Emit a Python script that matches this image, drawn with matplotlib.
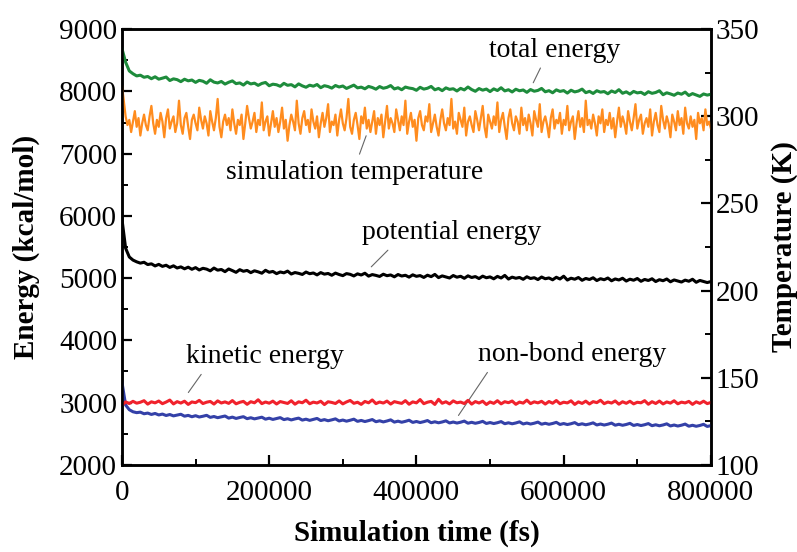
import numpy as np
import matplotlib
matplotlib.use('Agg')
import matplotlib.pyplot as plt
from matplotlib.ticker import MultipleLocator

total_energy = [
    8690, 8470, 8330, 8285, 8250, 8262, 8228, 8241, 8205, 8236,
    8198, 8214, 8232, 8176, 8203, 8190, 8158, 8197, 8171, 8184,
    8146, 8179, 8165, 8132, 8188, 8150, 8137, 8161, 8119, 8148,
    8170, 8126, 8138, 8103, 8152, 8121, 8134, 8098, 8129, 8145,
    8092, 8117, 8108, 8083, 8131, 8099, 8110, 8074, 8122, 8090,
    8068, 8101, 8085, 8112, 8061, 8093, 8079, 8054, 8096, 8072,
    8088, 8049, 8075, 8102, 8058, 8070, 8043, 8081, 8064, 8037,
    8079, 8052, 8066, 8095, 8041, 8060, 8028, 8071, 8055, 8046,
    8019, 8067, 8038, 8052, 8081, 8027, 8049, 8013, 8058, 8034,
    8044, 8008, 8050, 8025, 8072, 8031, 8003, 8047, 8021, 8039,
    7998, 8042, 8015, 8060, 8009, 8028, 7992, 8036, 8011, 8024,
    7986, 8031, 8004, 8017, 8049, 7995, 8013, 7979, 8026, 8001,
    8014, 7974, 8020, 7993, 8007, 8038, 7981, 8002, 7968, 8012,
    7989, 7999, 7963, 8008, 7984, 8029, 7971, 7994, 7958, 8001,
    7977, 7987, 7952, 7996, 7970, 7984, 8012, 7948, 7979, 7961,
    7939, 7975, 7956, 7990, 7935, 7966, 7944, 7921, 7960, 7942, 7955,
]

temperature = [
    318, 309, 300, 295, 298, 291, 297, 303, 294, 299, 289, 296, 301, 295, 292, 300, 306, 296, 290, 298,
    294, 302, 297, 288, 299, 304, 293, 297, 300, 291, 296, 309, 295, 290, 299, 302, 294, 287, 298, 301,
    296, 292, 305, 298, 293, 300, 296, 289, 303, 297, 292, 299, 310, 294, 288, 297, 301, 295, 299, 292,
    304, 296, 290, 298, 295, 301, 287, 296, 306, 299, 293, 297, 302, 291, 298, 295, 308, 292, 297, 300,
    289, 296, 303, 294, 299, 291, 297, 305, 293, 298, 286, 295, 301, 297, 292, 309, 296, 290, 299, 303,
    295, 298, 291, 304, 297, 293, 300, 288, 296, 302, 294, 299, 307, 291, 297, 295, 301, 289, 298, 304,
    296, 292, 299, 310, 294, 290, 298, 302, 295, 287, 300, 296, 305, 293, 298, 291, 297, 303, 290, 299,
    295, 301, 288, 297, 306, 293, 299, 296, 291, 304, 298, 292, 300, 295, 309, 290, 297, 302, 294, 298,
    286, 299, 303, 295, 292, 300, 297, 307, 291, 296, 301, 294, 289, 298, 304, 296, 292, 299, 295, 310,
    293, 297, 290, 302, 298, 294, 305, 289, 297, 300, 295, 291, 303, 298, 292, 299, 306, 294, 288, 301,
    297, 293, 300, 295, 308, 291, 298, 302, 294, 287, 299, 304, 296, 292, 300, 297, 290, 305, 295, 299,
    292, 301, 296, 289, 303, 298, 294, 307, 291, 297, 300, 295, 288, 299, 304, 293, 298, 296, 302, 290,
    298, 295, 306, 292, 297, 300, 287, 296, 303, 294, 299, 291, 309, 295, 298, 293, 301, 296, 289, 300,
    296, 304, 291, 298, 295, 302, 293, 299, 288, 297, 305, 294, 300, 296, 290, 303, 297, 292, 299, 307,
    293, 298, 301, 290, 296, 299, 294, 304, 289, 297, 302, 295, 291, 306, 298, 293, 300, 296, 288, 301,
    297, 292, 303, 295, 299, 290, 305, 296, 293, 300, 294, 298, 287, 302, 296, 299, 292, 304, 295, 297, 293,
]

potential_energy = [
    5950, 5480, 5340, 5290, 5262, 5241, 5255, 5218, 5230, 5196,
    5221, 5189, 5207, 5172, 5198, 5163, 5181, 5150, 5176, 5142,
    5169, 5131, 5158, 5145, 5117, 5162, 5128, 5139, 5104, 5147,
    5121, 5093, 5136, 5110, 5124, 5088, 5118, 5101, 5079, 5126,
    5094, 5108, 5072, 5099, 5085, 5113, 5066, 5090, 5077, 5059,
    5098, 5071, 5083, 5052, 5089, 5064, 5075, 5046, 5081, 5058,
    5040, 5073, 5061, 5035, 5069, 5050, 5079, 5032, 5057, 5044,
    5027, 5063, 5039, 5051, 5021, 5058, 5034, 5046, 5016, 5053,
    5029, 5041, 5011, 5047, 5024, 5060, 5008, 5036, 5019, 5002,
    5042, 5015, 5030, 4997, 5037, 5010, 5025, 4993, 5032, 5006,
    5020, 4989, 5028, 5002, 5044, 4985, 5016, 4998, 5011, 4981,
    5022, 4994, 5007, 4977, 5018, 4990, 5003, 4973, 5014, 4986,
    5031, 4969, 4999, 4982, 5010, 4965, 4995, 4978, 5006, 4961,
    4991, 4974, 5002, 4957, 4987, 4970, 4998, 4953, 4983, 4966,
    4994, 4949, 4979, 4962, 4990, 4945, 4975, 4958, 4986, 4941,
    4971, 4954, 4937, 4968, 4950, 4982, 4933, 4963, 4946, 4929, 4945,
]

kinetic_energy = [
    2960, 3010, 2985, 3020, 2990, 3005, 3030, 2975, 3012, 2995,
    3025, 2982, 3008, 3040, 2978, 3015, 2992, 3022, 2970, 3010,
    2998, 3035, 2984, 3006, 3018, 2976, 3027, 2993, 3011, 2987,
    3032, 2980, 3004, 3019, 2972, 3014, 2996, 3045, 2983, 3009,
    2990, 3023, 2977, 3016, 3001, 2986, 3029, 2974, 3012, 2997,
    3038, 2981, 3007, 2993, 3021, 2968, 3013, 3002, 2985, 3026,
    2979, 3010, 3034, 2988, 3005, 2971, 3018, 2996, 3042, 2983,
    3009, 2992, 3024, 2976, 3015, 3000, 2987, 3031, 2973, 3011,
    2995, 3048, 2982, 3006, 3019, 2970, 3052, 2989, 3013, 2978,
    3027, 2996, 3008, 2984, 3036, 2975, 3016, 2993, 3022, 2969,
    3010, 2987, 3030, 2979, 3014, 2998, 3025, 2972, 3008, 2991,
    3039, 2983, 3012, 2995, 3020, 2976, 3017, 2989, 3033, 2981,
    3006, 2994, 3028, 2970, 3011, 2986, 3023, 2977, 3015, 2999,
    3037, 2982, 3009, 2992, 3026, 2974, 3013, 2988, 3021, 2979,
    3005, 2996, 3031, 2973, 3014, 2985, 3024, 2978, 3010, 2991,
    3029, 2980, 3007, 2994, 3019, 2971, 3012, 2987, 3022, 2983, 3002,
]

nonbond_energy = [
    3330, 2960, 2885, 2852, 2838, 2846, 2820, 2831, 2809, 2825,
    2801, 2815, 2792, 2808, 2786, 2799, 2812, 2781, 2794, 2772,
    2789, 2768, 2780, 2795, 2762, 2776, 2757, 2771, 2784, 2750,
    2766, 2745, 2760, 2773, 2741, 2756, 2738, 2752, 2765, 2733,
    2749, 2729, 2744, 2758, 2726, 2740, 2721, 2737, 2750, 2718,
    2733, 2714, 2729, 2745, 2711, 2726, 2708, 2722, 2738, 2704,
    2719, 2701, 2716, 2733, 2698, 2713, 2695, 2710, 2727, 2692,
    2707, 2689, 2704, 2722, 2686, 2701, 2684, 2698, 2716, 2681,
    2696, 2679, 2693, 2711, 2676, 2691, 2675, 2688, 2706, 2672,
    2687, 2671, 2684, 2702, 2668, 2683, 2667, 2680, 2698, 2664,
    2679, 2663, 2676, 2694, 2660, 2675, 2659, 2672, 2690, 2656,
    2671, 2655, 2668, 2686, 2652, 2667, 2651, 2664, 2682, 2648,
    2663, 2647, 2660, 2678, 2644, 2659, 2643, 2656, 2674, 2640,
    2655, 2639, 2652, 2670, 2636, 2651, 2635, 2648, 2666, 2632,
    2647, 2631, 2644, 2662, 2628, 2643, 2627, 2640, 2658, 2624,
    2639, 2623, 2636, 2654, 2620, 2635, 2619, 2632, 2650, 2616, 2630,
]


def t_of(series):
    # samples are evenly spread over the 800000 fs run
    return np.linspace(0, 800000, len(series))


def main():
    plt.rcParams['font.family'] = ['Liberation Serif', 'DejaVu Serif']
    plt.rcParams['font.size'] = 21

    fig = plt.figure(figsize=(7.97, 5.52), dpi=100)
    ax = fig.add_axes([0.153, 0.158, 0.739, 0.789])
    ax2 = ax.twinx()

    lw = 2.2
    ax.plot(t_of(total_energy), total_energy, color='#1e8c3c', lw=lw, zorder=3)
    ax.plot(t_of(potential_energy), potential_energy, color='black', lw=lw, zorder=3)
    ax.plot(t_of(nonbond_energy), nonbond_energy, color='#3441a8', lw=lw, zorder=3)
    ax.plot(t_of(kinetic_energy), kinetic_energy, color='#f0222c', lw=lw, zorder=4)
    ax2.plot(t_of(temperature), temperature, color='#ff8c1e', lw=1.6)

    ax.set_xlim(0, 800000)
    ax.set_ylim(2000, 9000)
    ax2.set_ylim(100, 350)
    ax.xaxis.set_major_locator(MultipleLocator(200000))
    ax.xaxis.set_minor_locator(MultipleLocator(100000))
    ax.yaxis.set_major_locator(MultipleLocator(1000))
    ax.yaxis.set_minor_locator(MultipleLocator(500))
    ax2.yaxis.set_major_locator(MultipleLocator(50))
    ax2.yaxis.set_minor_locator(MultipleLocator(25))

    for a in (ax, ax2):
        a.tick_params(which='major', direction='in', length=7, width=1.6)
        a.tick_params(which='minor', direction='in', length=4, width=1.4)
        for s in a.spines.values():
            s.set_linewidth(1.8)
    ax.tick_params(axis='x', pad=11)

    ax.set_xlabel('Simulation time (fs)', fontweight='bold', labelpad=10)
    ax.set_ylabel('Energy (kcal/mol)', fontweight='bold', labelpad=14)
    ax2.set_ylabel('Temperature (K)', fontweight='bold', labelpad=8)

    fs = 20
    ax.annotate('total energy', xy=(557000, 8100), xytext=(588000, 8663),
                ha='center', va='center', fontsize=fs,
                arrowprops=dict(arrowstyle='-', color='#666666', lw=0.8, relpos=(0.41, 0.0)))
    ax.annotate('simulation temperature', xy=(333000, 7330), xytext=(316500, 6705),
                ha='center', va='center', fontsize=fs,
                arrowprops=dict(arrowstyle='-', color='#666666', lw=0.8, relpos=(0.51, 1.0)))
    ax.annotate('potential energy', xy=(336000, 5150), xytext=(448000, 5726),
                ha='center', va='center', fontsize=fs,
                arrowprops=dict(arrowstyle='-', color='#666666', lw=0.8, relpos=(0.17, 0.0)))
    ax.annotate('kinetic energy', xy=(88000, 3125), xytext=(194000, 3735),
                ha='center', va='center', fontsize=fs,
                arrowprops=dict(arrowstyle='-', color='#666666', lw=0.8, relpos=(0.12, 0.0)))
    ax.annotate('non-bond energy', xy=(455000, 2756), xytext=(611000, 3767),
                ha='center', va='center', fontsize=fs,
                arrowprops=dict(arrowstyle='-', color='#666666', lw=0.8, relpos=(0.07, 0.0)))

    fig.savefig('out.png', dpi=100)


if __name__ == '__main__':
    main()
